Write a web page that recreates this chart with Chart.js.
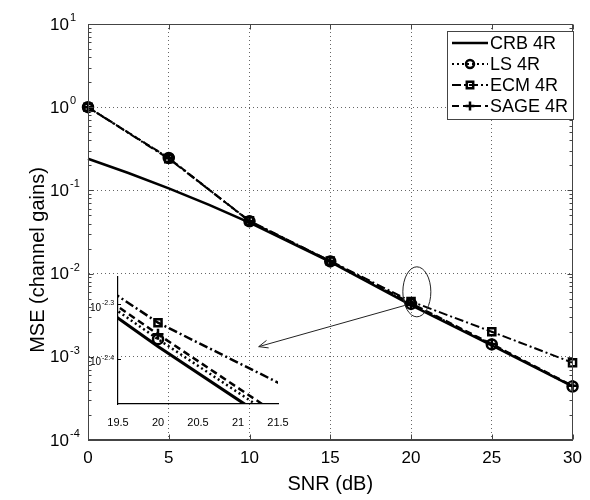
<!DOCTYPE html>
<html>
<head>
<meta charset="utf-8">
<script src="https://cdn.jsdelivr.net/npm/chart.js@4/dist/chart.umd.min.js"></script>
<style>
body { margin: 0; background: #fff; }
#wrap { position: relative; width: 590px; height: 500px; }
#wrap canvas { position: absolute; left: 0; top: 0; }
</style>
</head>
<body>
<div id="wrap">
<canvas id="mainChart" width="590" height="500"></canvas>
<canvas id="insetChart" width="590" height="500"></canvas>
</div>
<script>
// values
var snr = [0, 5, 10, 15, 20, 25, 30];
var crbSnr = [0, 2.5, 5, 7.5, 10, 15, 20, 25, 30];
var crb = [0.24, 0.162, 0.106, 0.067, 0.041, 0.0138, 0.00419, 0.00137, 0.00044];
var ls = [1.0, 0.245, 0.0425, 0.0140, 0.00432, 0.00141, 0.00044];
var ecm = [1.0, 0.24, 0.043, 0.0142, 0.00463, 0.0020, 0.00085];
var sage = [1.0, 0.245, 0.0425, 0.0141, 0.00441, 0.00143, 0.00045];
var seriesNames = ['CRB 4R', 'LS 4R', 'ECM 4R', 'SAGE 4R'];

var xTicks = [0, 5, 10, 15, 20, 25, 30];
var yTickExp = [-4, -3, -2, -1, 0, 1];
var insetXTicks = [19.5, 20, 20.5, 21, 21.5];
var insetYTickExp = [-2.4, -2.3];

// ellipse round the zoomed point and arrow to the inset (data coords)
var ellipseAt = { x: 20.36, y: Math.pow(10, -2.219) };
var arrowFrom = { x: 19.61, y: Math.pow(10, -2.383) };
var arrowTo = { x: 10.57, y: Math.pow(10, -2.878) };

var FONT = '"Liberation Sans", Arial, sans-serif';

function pts(xs, ys) {
    var out = [];
    for (var i = 0; i < xs.length; i++) out.push({ x: xs[i], y: ys[i] });
    return out;
}

function makeDatasets(scale) {
    return [{
        label: seriesNames[0], data: pts(crbSnr, crb),
        borderColor: '#000', borderWidth: 2.5 * scale, pointRadius: 0
    }, {
        label: seriesNames[1], data: pts(snr, ls),
        borderColor: '#000', borderWidth: 2 * scale, borderDash: [2, 3],
        pointStyle: 'circle', pointRadius: 5, pointBorderWidth: 2.5,
        pointBackgroundColor: 'rgba(0,0,0,0)', pointBorderColor: '#000'
    }, {
        label: seriesNames[2], data: pts(snr, ecm),
        borderColor: '#000', borderWidth: 2 * scale, borderDash: [9, 3, 2, 3],
        pointStyle: 'rect', pointRadius: 5, pointBorderWidth: 2.5,
        pointBackgroundColor: 'rgba(0,0,0,0)', pointBorderColor: '#000'
    }, {
        label: seriesNames[3], data: pts(snr, sage),
        borderColor: '#000', borderWidth: 2 * scale, borderDash: [7, 4],
        pointStyle: 'cross', pointRadius: 5.5, pointBorderWidth: 2.5,
        pointBorderColor: '#000'
    }];
}

function drawMarker(ctx, style, x, y, r) {
    ctx.beginPath();
    if (style == 'circle') {
        ctx.arc(x, y, r, 0, Math.PI * 2);
    } else if (style == 'rect') {
        ctx.rect(x - r * 0.8, y - r * 0.8, r * 1.6, r * 1.6);
    } else if (style == 'cross') {
        ctx.moveTo(x - r, y); ctx.lineTo(x + r, y);
        ctx.moveTo(x, y - r); ctx.lineTo(x, y + r);
    }
    ctx.stroke();
}

var mainDecor = {
    id: 'mainDecor',
    afterDraw: function (chart) {
        var ctx = chart.ctx, a = chart.chartArea;
        var xs = chart.scales.x, ys = chart.scales.y;
        ctx.save();
        ctx.strokeStyle = '#444';
        ctx.lineWidth = 1;
        var L = Math.round(a.left) + 0.5, R = Math.round(a.right) - 0.5;
        var T = Math.round(a.top) + 0.5, B = Math.round(a.bottom) - 0.5;
        ctx.strokeRect(L, T, R - L, B - T);

        // inner tick marks
        ctx.beginPath();
        xTicks.forEach(function (v) {
            var x = Math.round(xs.getPixelForValue(v)) + 0.5;
            ctx.moveTo(x, B); ctx.lineTo(x, B - 5);
            ctx.moveTo(x, T); ctx.lineTo(x, T + 5);
        });
        yTickExp.forEach(function (e) {
            var y = Math.round(ys.getPixelForValue(Math.pow(10, e))) + 0.5;
            ctx.moveTo(L, y); ctx.lineTo(L + 5, y);
            ctx.moveTo(R, y); ctx.lineTo(R - 5, y);
            if (e < 1) {
                for (var m = 2; m <= 9; m++) {
                    var ym = Math.round(ys.getPixelForValue(m * Math.pow(10, e))) + 0.5;
                    ctx.moveTo(L, ym); ctx.lineTo(L + 3, ym);
                    ctx.moveTo(R, ym); ctx.lineTo(R - 3, ym);
                }
            }
        });
        ctx.stroke();

        // y tick labels 10^e
        ctx.fillStyle = '#000';
        yTickExp.forEach(function (e) {
            var y = ys.getPixelForValue(Math.pow(10, e));
            ctx.font = '17px ' + FONT;
            ctx.textAlign = 'right';
            ctx.textBaseline = 'middle';
            ctx.fillText('10', 69, y + 1);
            ctx.font = '11px ' + FONT;
            ctx.textAlign = 'left';
            ctx.textBaseline = 'alphabetic';
            ctx.fillText(String(e), 70, y - 3);
        });

        // axis titles
        ctx.font = '20px ' + FONT;
        ctx.textAlign = 'center';
        ctx.textBaseline = 'middle';
        ctx.fillText('SNR (dB)', (a.left + a.right) / 2, 484);
        ctx.save();
        ctx.translate(38, 260);
        ctx.rotate(-Math.PI / 2);
        ctx.fillText('MSE (channel gains)', 0, 0);
        ctx.restore();

        // ellipse and arrow
        ctx.strokeStyle = '#222';
        ctx.lineWidth = 1;
        ctx.beginPath();
        ctx.ellipse(xs.getPixelForValue(ellipseAt.x), ys.getPixelForValue(ellipseAt.y), 14, 25, 0, 0, Math.PI * 2);
        ctx.stroke();
        var x1 = xs.getPixelForValue(arrowFrom.x), y1 = ys.getPixelForValue(arrowFrom.y);
        var x2 = xs.getPixelForValue(arrowTo.x), y2 = ys.getPixelForValue(arrowTo.y);
        var ang = Math.atan2(y2 - y1, x2 - x1);
        ctx.beginPath();
        ctx.moveTo(x1, y1); ctx.lineTo(x2, y2);
        ctx.moveTo(x2 - 10 * Math.cos(ang - 0.4), y2 - 10 * Math.sin(ang - 0.4));
        ctx.lineTo(x2, y2);
        ctx.lineTo(x2 - 10 * Math.cos(ang + 0.4), y2 - 10 * Math.sin(ang + 0.4));
        ctx.stroke();

        // legend
        ctx.fillStyle = '#fff';
        ctx.fillRect(447.5, 31.5, 126, 88);
        ctx.strokeStyle = '#444';
        ctx.strokeRect(447.5, 31.5, 126, 88);
        ctx.font = '18px ' + FONT;
        ctx.textAlign = 'left';
        ctx.textBaseline = 'middle';
        chart.data.datasets.forEach(function (ds, i) {
            var y = 43 + i * 21;
            ctx.strokeStyle = '#000';
            ctx.lineWidth = ds.borderWidth;
            ctx.setLineDash(ds.borderDash || []);
            ctx.beginPath();
            ctx.moveTo(452, y); ctx.lineTo(488, y);
            ctx.stroke();
            ctx.setLineDash([]);
            if (ds.pointRadius) {
                ctx.lineWidth = ds.pointBorderWidth;
                drawMarker(ctx, ds.pointStyle, 470, y, ds.pointRadius * 0.8);
            }
            ctx.fillStyle = '#000';
            ctx.fillText(ds.label, 490, y + 1);
        });
        ctx.restore();
    }
};

new Chart(document.getElementById('mainChart'), {
    type: 'line',
    data: { datasets: makeDatasets(1) },
    options: {
        responsive: false,
        animation: false,
        layout: { padding: { top: 24, right: 12, left: 0, bottom: 0 } },
        plugins: { legend: { display: false }, tooltip: { enabled: false } },
        datasets: { line: { clip: false, tension: 0 } },
        scales: {
            x: {
                type: 'linear', min: 0, max: 30,
                afterBuildTicks: function (s) { s.ticks = xTicks.map(function (v) { return { value: v }; }); },
                afterFit: function (s) { s.height = 60; },
                grid: { color: '#666', lineWidth: 1, drawTicks: false },
                border: { color: '#444', dash: [1, 3] },
                ticks: { color: '#000', font: { family: FONT, size: 17 }, padding: 8, maxRotation: 0 }
            },
            y: {
                type: 'logarithmic', min: 1e-4, max: 10,
                afterBuildTicks: function (s) { s.ticks = yTickExp.map(function (e) { return { value: Math.pow(10, e) }; }); },
                afterFit: function (s) { s.width = 88; },
                grid: { color: '#666', lineWidth: 1, drawTicks: false },
                border: { color: '#444', dash: [1, 3] },
                ticks: { display: false }
            }
        }
    },
    plugins: [mainDecor]
});

var insetDecor = {
    id: 'insetDecor',
    afterDraw: function (chart) {
        var ctx = chart.ctx, a = chart.chartArea, ys = chart.scales.y;
        ctx.save();
        ctx.fillStyle = '#000';
        ctx.strokeStyle = '#000';
        ctx.lineWidth = 1;
        insetYTickExp.forEach(function (e) {
            var y = ys.getPixelForValue(Math.pow(10, e));
            ctx.beginPath();
            ctx.moveTo(a.left, Math.round(y) + 0.5); ctx.lineTo(a.left + 3, Math.round(y) + 0.5);
            ctx.stroke();
            ctx.font = '10px ' + FONT;
            ctx.textAlign = 'right';
            ctx.textBaseline = 'middle';
            ctx.fillText('10', 101, y + 4);
            ctx.font = '7px ' + FONT;
            ctx.textAlign = 'left';
            ctx.textBaseline = 'alphabetic';
            ctx.fillText(String(e), 102, y + 1);
        });
        ctx.restore();
    }
};

new Chart(document.getElementById('insetChart'), {
    type: 'line',
    data: { datasets: makeDatasets(1.25) },
    options: {
        responsive: false,
        animation: false,
        layout: { padding: { top: 277, right: 312, left: 0, bottom: 0 } },
        plugins: { legend: { display: false }, tooltip: { enabled: false } },
        datasets: { line: { tension: 0 } },
        scales: {
            x: {
                type: 'linear', min: 19.5, max: 21.5,
                afterBuildTicks: function (s) { s.ticks = insetXTicks.map(function (v) { return { value: v }; }); },
                afterFit: function (s) { s.height = 96; },
                grid: { display: false },
                border: { color: '#000', width: 1.2 },
                ticks: {
                    color: '#000', font: { family: FONT, size: 11 }, padding: 4, maxRotation: 0,
                    callback: function (v) { return String(v); }
                }
            },
            y: {
                type: 'logarithmic', min: 0.00329, max: 0.00561,
                afterBuildTicks: function (s) { s.ticks = insetYTickExp.map(function (e) { return { value: Math.pow(10, e) }; }); },
                afterFit: function (s) { s.width = 118; },
                grid: { display: false },
                border: { color: '#000', width: 1.2 },
                ticks: { display: false }
            }
        }
    },
    plugins: [insetDecor]
});
</script>
</body>
</html>
